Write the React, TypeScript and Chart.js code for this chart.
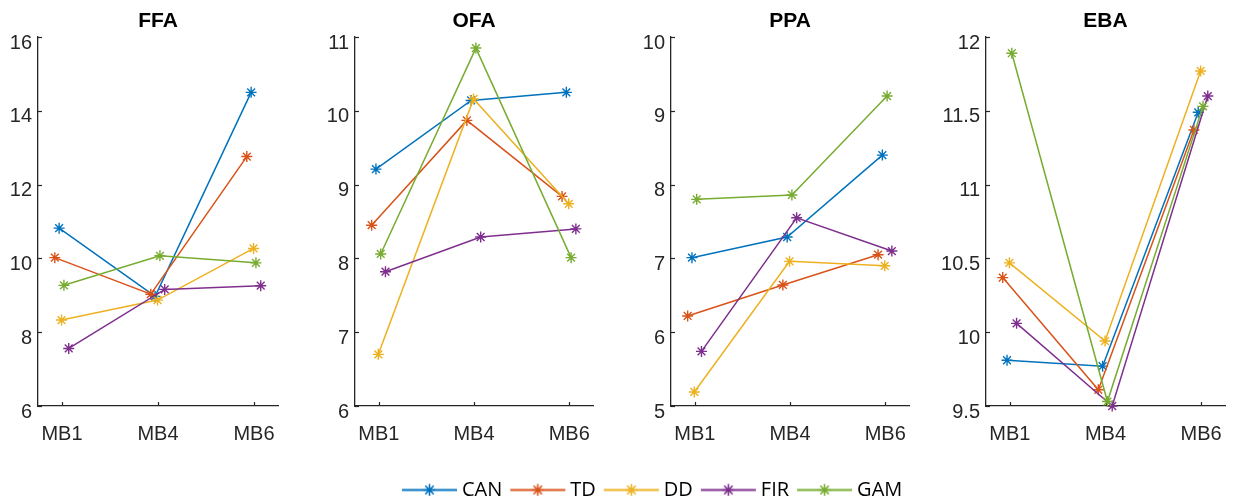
import React, { useEffect, useRef } from 'react';
import { Chart, registerables } from 'chart.js';

Chart.register(...registerables);

// ---------- data ----------
const categories = ['MB1', 'MB4', 'MB6'];
const seriesNames = ['CAN', 'TD', 'DD', 'FIR', 'GAM'];
const seriesJitter = [-0.03, -0.075, -0.005, 0.07, 0.02];

const ffaCAN = [10.82, 8.97, 14.5];
const ffaTD = [10.02, 9.03, 12.76];
const ffaDD = [8.33, 8.87, 10.27];
const ffaFIR = [7.56, 9.16, 9.26];
const ffaGAM = [9.27, 10.07, 9.88];

const ofaCAN = [9.21, 10.14, 10.25];
const ofaTD = [8.45, 9.87, 8.84];
const ofaDD = [6.7, 10.16, 8.74];
const ofaFIR = [7.82, 8.29, 8.4];
const ofaGAM = [8.06, 10.85, 8.01];

const ppaCAN = [7.01, 7.29, 8.4];
const ppaTD = [6.22, 6.64, 7.05];
const ppaDD = [5.19, 6.96, 6.9];
const ppaFIR = [5.74, 7.55, 7.1];
const ppaGAM = [7.8, 7.86, 9.2];

const ebaCAN = [9.81, 9.77, 11.49];
const ebaTD = [10.37, 9.61, 11.37];
const ebaDD = [10.47, 9.94, 11.77];
const ebaFIR = [10.06, 9.5, 11.6];
const ebaGAM = [11.89, 9.53, 11.53];

const panelTitles = ['FFA', 'OFA', 'PPA', 'EBA'];
const panelYMin = [6, 6, 5, 9.5];
const panelYMax = [16, 11, 10, 12];
const panelYStep = [2, 1, 1, 0.5];
const panelSeries = [
  [ffaCAN, ffaTD, ffaDD, ffaFIR, ffaGAM],
  [ofaCAN, ofaTD, ofaDD, ofaFIR, ofaGAM],
  [ppaCAN, ppaTD, ppaDD, ppaFIR, ppaGAM],
  [ebaCAN, ebaTD, ebaDD, ebaFIR, ebaGAM],
];

// ---------- styles / layout ----------
const seriesColors = ['#0072BD', '#D95319', '#EDB120', '#7E2F8E', '#77AC30'];
const AXIS_COLOR = '#262626';
const FONT = '"Liberation Sans", Arial, Helvetica, sans-serif';
const LEGEND_FONT = '"Open Sans", "Noto Sans", sans-serif';
const PANEL_H = 460;
const LEGEND_TOP = 460;
const LEGEND_H = 44;
const panelLayout = [
  { left: 0, width: 302, yW: 38, padR: 24 },
  { left: 310, width: 307, yW: 45, padR: 24 },
  { left: 620, width: 310, yW: 51, padR: 21 },
  { left: 930, width: 313, yW: 56, padR: 18 },
];

const inwardTicks = {
  id: 'inwardTicks',
  beforeDatasetsDraw(chart: any) {
    const { ctx, chartArea, scales } = chart;
    const x = scales.x;
    const y = scales.y;
    ctx.save();
    ctx.strokeStyle = AXIS_COLOR;
    ctx.lineWidth = 1.2;
    x.ticks.forEach((t: any) => {
      const px = Math.round(x.getPixelForValue(t.value)) + 0.5;
      ctx.beginPath();
      ctx.moveTo(px, chartArea.bottom);
      ctx.lineTo(px, chartArea.bottom - 4);
      ctx.stroke();
    });
    y.ticks.forEach((t: any) => {
      const py = Math.round(y.getPixelForValue(t.value)) + 0.5;
      ctx.beginPath();
      ctx.moveTo(chartArea.left, py);
      ctx.lineTo(chartArea.left + 4, py);
      ctx.stroke();
    });
    ctx.restore();
  },
};

function Panel({ index }: { index: number }) {
  const ref = useRef<HTMLCanvasElement | null>(null);
  useEffect(() => {
    const lay = panelLayout[index];
    const datasets = seriesNames.map((name, s) => ({
      label: name,
      data: panelSeries[index][s].map((v, i) => ({ x: i + 1 + seriesJitter[s], y: v })),
      borderColor: seriesColors[s],
      backgroundColor: seriesColors[s],
      borderWidth: 1.5,
      pointStyle: 'star',
      pointRadius: 5.5,
      pointBorderWidth: 1.4,
      pointBorderColor: seriesColors[s],
      pointBackgroundColor: seriesColors[s],
      tension: 0,
      clip: false,
      order: seriesNames.length - 1 - s,
    }));
    const tickFont = { family: FONT, size: 20 };
    const chart = new Chart(ref.current as HTMLCanvasElement, {
      type: 'line',
      data: { datasets } as any,
      plugins: [inwardTicks],
      options: {
        responsive: false,
        animation: false,
        events: [],
        layout: { padding: { left: 0, right: lay.padR, top: 0, bottom: 0 } },
        plugins: {
          legend: { display: false },
          tooltip: { enabled: false },
          title: {
            display: true,
            text: panelTitles[index],
            fullSize: false,
            color: '#000',
            font: { family: FONT, size: 21, weight: 'bold' },
            padding: { top: 8.8, bottom: 3 },
          },
        },
        scales: {
          x: {
            type: 'linear',
            min: 0.75,
            max: 3.25,
            afterBuildTicks: (s: any) => {
              s.ticks = categories.map((_, i) => ({ value: i + 1 }));
            },
            afterFit: (s: any) => {
              s.height = PANEL_H - 406;
            },
            ticks: {
              callback: (_v: any, i: number) => categories[i],
              font: tickFont,
              color: AXIS_COLOR,
              padding: 16,
              maxRotation: 0,
              autoSkip: false,
            },
            grid: { display: false, drawTicks: false },
            border: { display: true, color: AXIS_COLOR, width: 1.3 },
          },
          y: {
            type: 'linear',
            min: panelYMin[index],
            max: panelYMax[index],
            afterFit: (s: any) => {
              s.width = lay.yW;
            },
            ticks: {
              stepSize: panelYStep[index],
              callback: (v: any) => String(Number(v)),
              font: tickFont,
              color: AXIS_COLOR,
              padding: 6,
              labelOffset: 6,
            },
            grid: { display: false, drawTicks: false },
            border: { display: true, color: AXIS_COLOR, width: 1.3 },
          },
        },
      } as any,
    });
    return () => chart.destroy();
  }, [index]);
  const lay = panelLayout[index];
  return (
    <canvas
      ref={ref}
      width={lay.width}
      height={PANEL_H}
      style={{ position: 'absolute', left: lay.left, top: 0, width: lay.width, height: PANEL_H }}
    />
  );
}

function makeLegendIcon(color: string) {
  const c = document.createElement('canvas');
  c.width = 57;
  c.height = 15;
  const g = c.getContext('2d') as CanvasRenderingContext2D;
  g.strokeStyle = color;
  g.lineWidth = 1.8;
  g.beginPath();
  g.moveTo(1, 7.5);
  g.lineTo(56, 7.5);
  g.stroke();
  const cx = 28.5;
  const cy = 7.5;
  const r = 6;
  g.lineWidth = 1.6;
  g.beginPath();
  for (let k = 0; k < 4; k++) {
    const a = (k * Math.PI) / 4;
    g.moveTo(cx - r * Math.sin(a), cy - r * Math.cos(a));
    g.lineTo(cx + r * Math.sin(a), cy + r * Math.cos(a));
  }
  g.stroke();
  return c;
}

function LegendChart() {
  const ref = useRef<HTMLCanvasElement | null>(null);
  useEffect(() => {
    const icons = seriesColors.map((c) => makeLegendIcon(c));
    const chart = new Chart(ref.current as HTMLCanvasElement, {
      type: 'line',
      data: {
        datasets: seriesNames.map((name, s) => ({
          label: name,
          data: [],
          borderColor: seriesColors[s],
          backgroundColor: seriesColors[s],
        })),
      },
      options: {
        responsive: false,
        animation: false,
        events: [],
        layout: { padding: { left: 394, top: 7, right: 0, bottom: 0 } },
        scales: { x: { display: false }, y: { display: false } },
        plugins: {
          tooltip: { enabled: false },
          legend: {
            display: true,
            position: 'top',
            align: 'start',
            maxHeight: LEGEND_H,
            labels: {
              usePointStyle: true,
              pointStyleWidth: 45,
              padding: 13,
              color: '#000',
              font: { family: LEGEND_FONT, size: 20 },
              generateLabels: () =>
                seriesNames.map((name, s) => ({
                  text: name,
                  pointStyle: icons[s],
                  fillStyle: seriesColors[s],
                  strokeStyle: seriesColors[s],
                  fontColor: '#000',
                  lineWidth: 0,
                  hidden: false,
                  datasetIndex: s,
                })),
            },
          },
        },
      } as any,
    });
    return () => chart.destroy();
  }, []);
  return (
    <canvas
      ref={ref}
      width={1243}
      height={LEGEND_H}
      style={{ position: 'absolute', left: 0, top: LEGEND_TOP, width: 1243, height: LEGEND_H }}
    />
  );
}

export default function App() {
  return (
    <div
      style={{
        position: 'relative',
        margin: -8,
        width: 1243,
        height: 504,
        background: '#fff',
        overflow: 'hidden',
      }}
    >
      {panelTitles.map((_, i) => (
        <Panel key={i} index={i} />
      ))}
      <LegendChart />
    </div>
  );
}
